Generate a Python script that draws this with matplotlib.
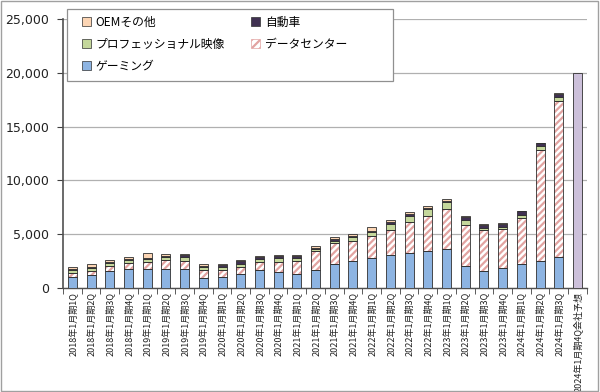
import numpy as np
import matplotlib
matplotlib.use("Agg")
import matplotlib.pyplot as plt
from matplotlib.patches import Patch, Rectangle

plt.rcParams['font.family'] = ['Noto Sans CJK JP', 'DejaVu Sans']
plt.rcParams['hatch.linewidth'] = 1.6

# 四半期ラベル
quarters = [f"{y}年1月期{q}Q" for y in range(2018, 2025) for q in range(1, 5)][:27]
forecast_label = "2024年1月期4Q会社予想"
forecast_value = 20000

# 市場別売上高 (百万ドル)
gaming = [1027, 1186, 1561, 1739, 1723, 1805, 1764, 954,
          1055, 1313, 1659, 1491, 1339, 1654, 2271, 2495,
          2760, 3061, 3221, 3420, 3620, 2042, 1574, 1831,
          2240, 2486, 2856]
datacenter = [409, 416, 501, 606, 701, 760, 792, 679,
              634, 655, 726, 968, 1141, 1752, 1900, 1903,
              2048, 2366, 2936, 3263, 3750, 3806, 3833, 3616,
              4284, 10323, 14514]
proviz = [205, 235, 239, 254, 251, 281, 305, 293,
          266, 291, 324, 331, 307, 203, 236, 307,
          372, 519, 577, 643, 622, 496, 200, 226,
          295, 379, 416]
auto = [140, 142, 144, 132, 145, 161, 172, 163,
        166, 209, 162, 163, 155, 111, 125, 145,
        154, 152, 135, 125, 138, 220, 251, 294,
        296, 253, 261]
oem = [156, 251, 191, 180, 387, 116, 148, 116,
       99, 111, 143, 152, 138, 146, 194, 153,
       327, 266, 174, 192, 158, 140, 73, 84,
       77, 66, 73]

c_gaming = '#8db4e2'
c_dc_hatch = '#e2a3a1'
c_proviz = '#c4d79b'
c_auto = '#403152'
c_oem = '#fcd5b4'
c_forecast = '#ccc0da'
edge = '#303030'

fig = plt.figure(figsize=(6.0, 3.92), dpi=100)
ax = fig.add_axes([0.105, 0.2653, 0.873, 0.6862])

labels = quarters + [forecast_label]
x = np.arange(len(quarters))
w = 0.48
lw = 0.6

g = np.array(gaming)
d = np.array(datacenter)
p = np.array(proviz)
a = np.array(auto)
o = np.array(oem)

ax.bar(x, g, w, color=c_gaming, edgecolor=edge, linewidth=lw, zorder=3)
# データセンター: 斜線
ax.bar(x, d, w, bottom=g, color='white', edgecolor=c_dc_hatch, hatch='/////', linewidth=0, zorder=3)
ax.bar(x, d, w, bottom=g, fill=False, edgecolor=edge, linewidth=lw, zorder=4)
ax.bar(x, p, w, bottom=g + d, color=c_proviz, edgecolor=edge, linewidth=lw, zorder=3)
ax.bar(x, a, w, bottom=g + d + p, color=c_auto, edgecolor=edge, linewidth=lw, zorder=3)
ax.bar(x, o, w, bottom=g + d + p + a, color=c_oem, edgecolor=edge, linewidth=lw, zorder=3)
ax.bar([len(quarters)], [forecast_value], w, color=c_forecast, edgecolor=edge, linewidth=lw, zorder=3)

ax.set_xlim(-0.5, len(labels) - 0.5)
ax.set_ylim(0, 25000)
ax.set_yticks(np.arange(0, 25001, 5000))
ax.set_yticklabels([f"{v:,}" for v in range(0, 25001, 5000)], family='DejaVu Sans', fontsize=9, color='#222222')
ax.yaxis.grid(True, color='#b0b0b0', linewidth=0.9, zorder=0)
ax.set_axisbelow(True)

ax.set_xticks(x.tolist() + [len(quarters)])
ax.set_xticklabels(labels, rotation=90, fontsize=6.5, color='#222222')
ax.tick_params(axis='x', length=0, pad=3)
ax.set_xticks(np.arange(-0.5, len(labels) + 0.5, 1), minor=True)
ax.tick_params(axis='x', which='minor', length=4, direction='out', color='#404040')
ax.tick_params(axis='y', length=4, direction='out', color='#404040', pad=6)

for s in ['top', 'right']:
    ax.spines[s].set_visible(False)
ax.spines['left'].set_color('#505050')
ax.spines['left'].set_linewidth(1.2)
ax.spines['bottom'].set_color('#505050')
ax.spines['bottom'].set_linewidth(1.0)

# 凡例
handles = [
    Patch(facecolor=c_oem, edgecolor=edge, linewidth=0.5, label='OEMその他'),
    Patch(facecolor=c_proviz, edgecolor=edge, linewidth=0.5, label='プロフェッショナル映像'),
    Patch(facecolor=c_gaming, edgecolor=edge, linewidth=0.5, label='ゲーミング'),
    Patch(facecolor=c_auto, edgecolor=edge, linewidth=0.5, label='自動車'),
    Patch(facecolor='white', edgecolor=c_dc_hatch, hatch='////', linewidth=0.5, label='データセンター'),
]
fig.legend(handles=handles, ncol=2, loc='upper left', bbox_to_anchor=(0.128, 0.972),
           frameon=False, fontsize=8.5, handlelength=0.8, handleheight=0.8,
           handletextpad=0.4, columnspacing=2.2, labelspacing=0.75, borderaxespad=0)
fig.add_artist(Rectangle((67 / 600, 1 - 81 / 392), 326 / 600, 72 / 392, transform=fig.transFigure,
                         fill=True, facecolor='white', edgecolor='#909090', linewidth=0.9, zorder=-1))
ax.set_zorder(-2)

fig.add_artist(Rectangle((0.002, 0.003), 0.995, 0.994, transform=fig.transFigure,
                         fill=False, edgecolor='#a0a0a0', linewidth=1.0))

fig.savefig('out.png', dpi=100)
